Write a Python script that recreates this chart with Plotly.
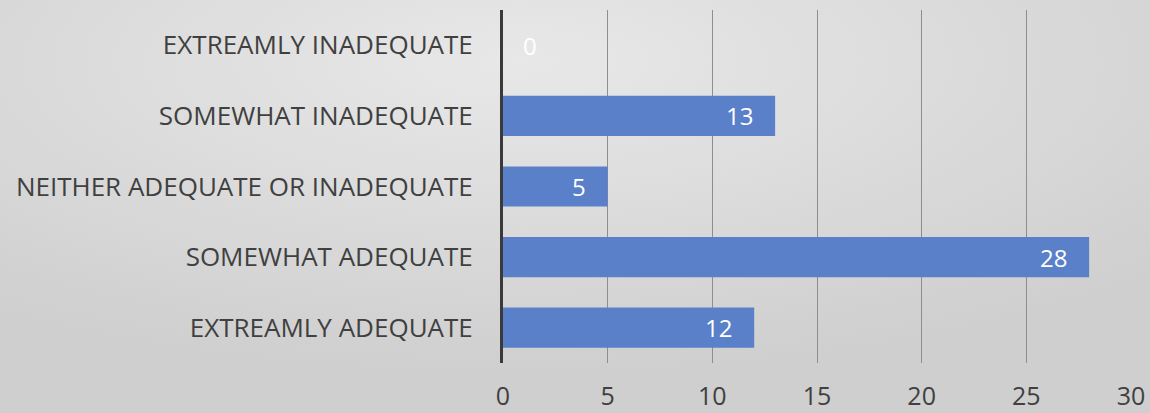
import base64
import plotly.graph_objects as go

categories = ["EXTREAMLY INADEQUATE", "SOMEWHAT INADEQUATE",
              "NEITHER ADEQUATE OR INADEQUATE", "SOMEWHAT ADEQUATE",
              "EXTREAMLY ADEQUATE"]
counts = [0, 13, 5, 28, 12]
x_ticks = [0, 5, 10, 15, 20, 25, 30]

font_name = "Open Sans"
bar_color = "#5a80c9"
W, H = 1150, 413
L, R, T, B = 503, 19, 10, 50

# soft grey radial backdrop like the slide behind the chart
svg = (
    f'<svg xmlns="http://www.w3.org/2000/svg" width="{W}" height="{H}">'
    '<defs><radialGradient id="g" cx="0.45" cy="0.15" r="0.75">'
    '<stop offset="0" stop-color="#e8e8e8"/><stop offset="1" stop-color="#cfcfcf"/>'
    '</radialGradient></defs>'
    f'<rect width="{W}" height="{H}" fill="url(#g)"/></svg>'
)
bg_src = "data:image/svg+xml;base64," + base64.b64encode(svg.encode()).decode()

fig = go.Figure()
fig.add_trace(go.Bar(
    x=counts, y=categories, orientation="h",
    marker=dict(color=bar_color, line=dict(width=0)),
    width=0.57, hoverinfo="x+y",
))

# data labels, placed inside the bar end (the zero one sits just right of the axis)
for c, v in zip(categories, counts):
    fig.add_annotation(
        x=v, y=c, text=str(v), showarrow=False,
        xanchor="left" if v == 0 else "right",
        xshift=18 if v == 0 else -20,
        font=dict(family=font_name, size=24, color="white"),
    )

pw, ph = W - L - R, H - T - B
fig.add_layout_image(
    source=bg_src, xref="paper", yref="paper",
    x=-L / pw, y=1 + T / ph, sizex=W / pw, sizey=H / ph,
    sizing="stretch", xanchor="left", yanchor="top", layer="below",
)

fig.update_layout(
    width=W, height=H,
    margin=dict(l=L, r=R, t=T, b=B, autoexpand=False),
    paper_bgcolor="#dcdcdc", plot_bgcolor="rgba(0,0,0,0)",
    showlegend=False,
    font=dict(family=font_name, size=26, color="#404040"),
)
fig.update_xaxes(
    range=[0, 30], tickvals=x_ticks, showgrid=True, gridcolor="#8e8e8e",
    gridwidth=1.2, zeroline=False, showline=False, ticks="",
    tickfont=dict(size=25, color="#404040"), ticklabelstandoff=16,
)
fig.update_yaxes(
    autorange="reversed", showgrid=False, zeroline=False, ticks="",
    showline=True, linecolor="#3a3a3a", linewidth=3,
    tickfont=dict(size=26, color="#404040"), ticklabelstandoff=22,
)

# drop the page's default body margin so the figure sits at the window corner
fig.write_html("out.html", config={"displayModeBar": False},
               post_script="document.body.style.margin='0';")
